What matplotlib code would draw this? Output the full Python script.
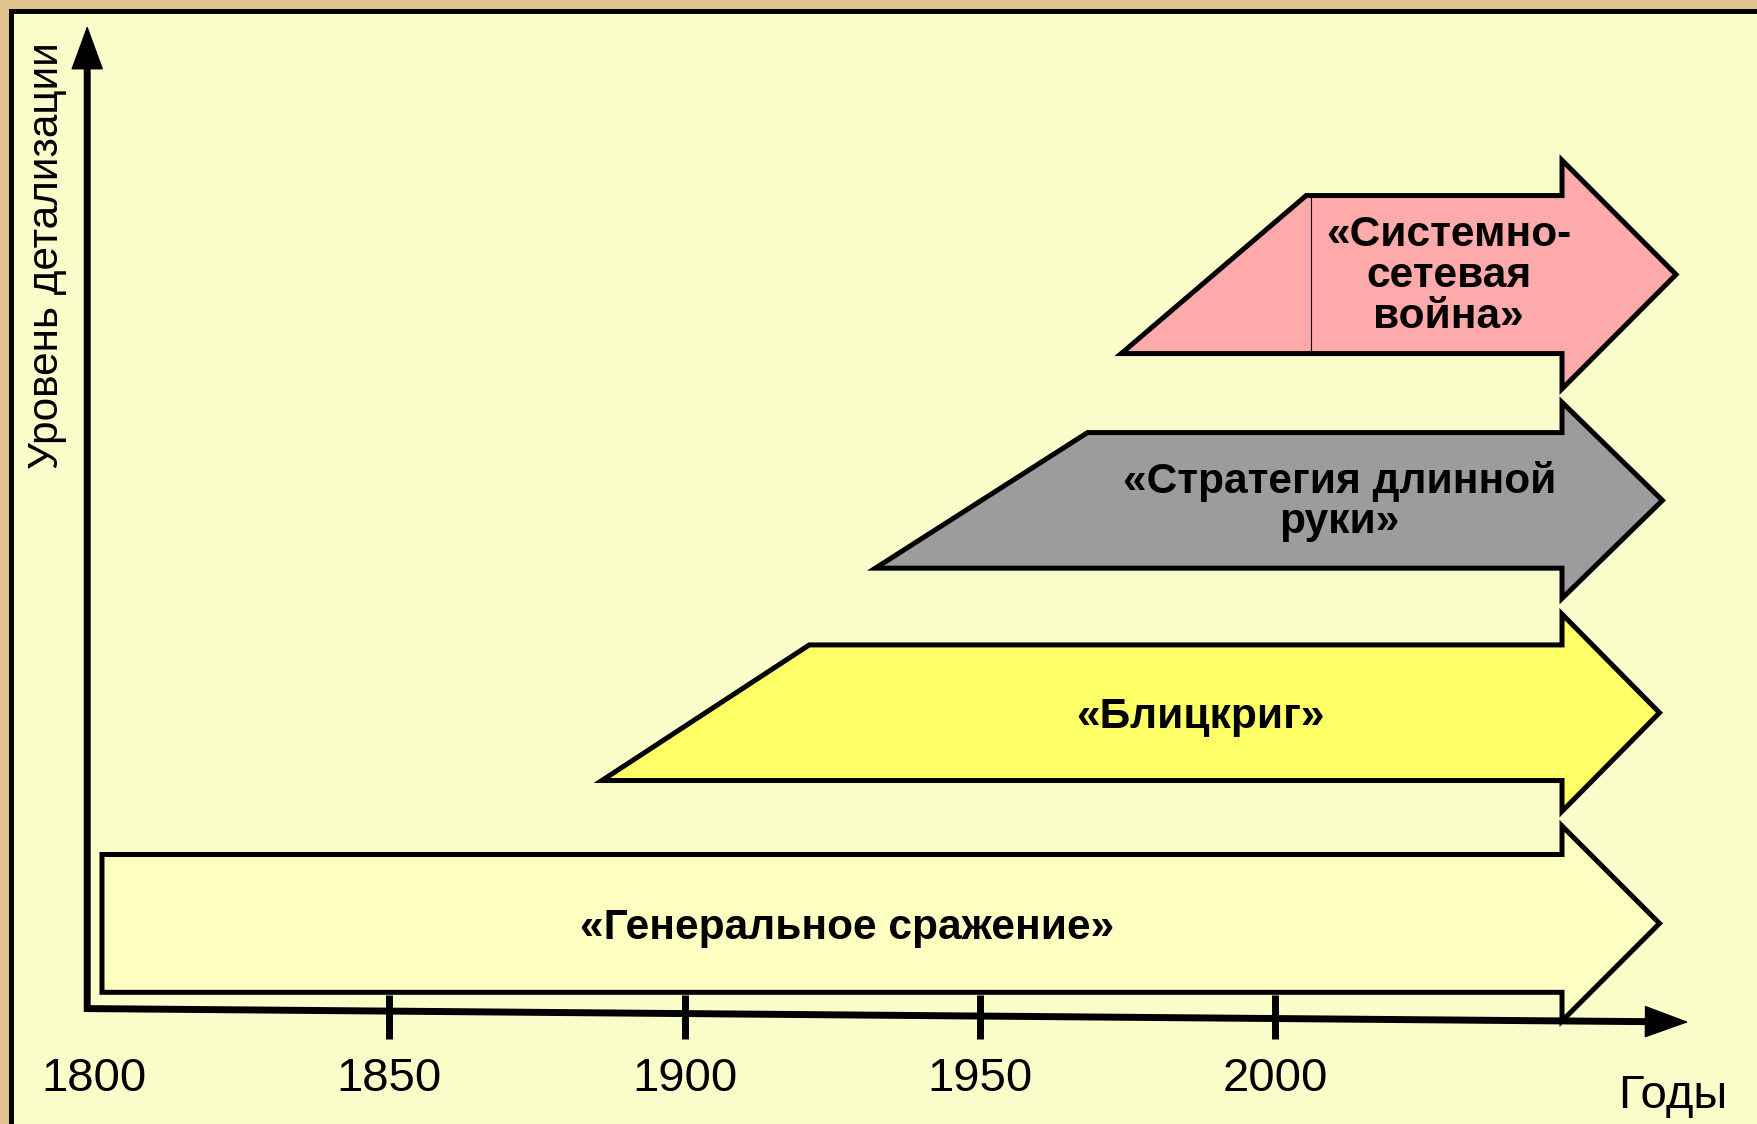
import matplotlib
matplotlib.use("Agg")
import matplotlib.pyplot as plt
from matplotlib.patches import Polygon, Rectangle

plt.rcParams['font.family'] = ['Liberation Sans', 'DejaVu Sans']

# strategies, from the bottom arrow to the top one
names = [["«Генеральное сражение»"],
         ["«Блицкриг»"],
         ["«Стратегия длинной", "руки»"],
         ["«Системно-", "сетевая", "война»"]]
start_year = [1801.4, 1886.0, 1932.3, 1973.9]   # thin end of the arrow
full_year = [1801.4, 1921.1, 1968.2, 2005.2]    # arrow reaches full width
head_year = [2048.5, 2048.5, 2048.5, 2048.5]
tip_year = [2065.0, 2065.0, 2065.5, 2067.8]
level = [0.76, 2.64, 4.535, 6.55]               # level of detail (centre)
body_half = [0.615, 0.605, 0.605, 0.705]
head_half = [0.87, 0.88, 0.875, 1.02]
fills = ["#FFFFC2", "#FFFF66", "#9C9C9C", "#FFAAAA"]

year_labels = [1800, 1850, 1900, 1950, 2000]
tick_years = [1850, 1900, 1950, 2000]

# axes geometry (years / levels)
axis_year = 1798.9
axis_end_year = 2069.9
axis_end_level = -0.12   # the x axis is drawn slightly tilted
axis_top = 8.77

fig = plt.figure(figsize=(17.58, 11.24), dpi=100, facecolor="#E2C28C")

# pale yellow slide panel with black frame on the left and top
fig.patches.append(Rectangle((11.5 / 1758, -0.05), 1.1, 1 - 10.5 / 1124 + 0.05,
                             transform=fig.transFigure, facecolor="#FAFDC9",
                             edgecolor="black", lw=3.6, zorder=-5))

ax = fig.add_axes([0, 0, 1, 1])
ax.set_facecolor("none")
ax.set_xlim(1784.14, 2081.67)
ax.set_ylim(-1.03, 9.0)
ax.axis("off")

# arrows
for i in range(len(names)):
    c, b, hh = level[i], body_half[i], head_half[i]
    pts = [(start_year[i], c - b), (full_year[i], c + b), (head_year[i], c + b),
           (head_year[i], c + hh), (tip_year[i], c), (head_year[i], c - hh),
           (head_year[i], c - b)]
    ax.add_patch(Polygon(pts, closed=True, facecolor=fills[i], edgecolor="black",
                         lw=3.6, joinstyle="miter", zorder=2))
    tx = (full_year[i] + head_year[i]) / 2 + 2.5
    n = len(names[i])
    for j, line in enumerate(names[i]):
        dy = ((n - 1) / 2 - j) * 29.2 + (2.2 if n > 1 else 0)
        ax.annotate(line, (tx, c), xytext=(0, dy), textcoords="offset points",
                    ha="center", va="center_baseline", fontsize=30.6,
                    fontweight="bold", zorder=4)

# seam between tail and body of the top arrow
ax.plot([full_year[3] + 0.9] * 2, [level[3] - body_half[3], level[3] + body_half[3]],
        color="black", lw=0.8, zorder=3)

# axes lines
ax.plot([axis_year, axis_year, axis_end_year - 4],
        [axis_top - 0.3, 0, axis_end_level + 0.002],
        color="black", lw=5, solid_joinstyle="miter", solid_capstyle="butt", zorder=5)
head = dict(arrowstyle="-|>,head_length=2.95,head_width=1.08", mutation_scale=10,
            color="black", lw=1, shrinkA=0, shrinkB=0)
ax.annotate("", xy=(axis_year, axis_top), xytext=(axis_year, axis_top - 0.6),
            arrowprops=head, zorder=5)
ax.annotate("", xy=(axis_end_year, axis_end_level),
            xytext=(axis_end_year - 10, axis_end_level + 0.0045), arrowprops=head, zorder=5)

ax.vlines(tick_years, -0.27, 0.12, color="black", lw=5, zorder=5)

for yr in year_labels:
    ax.text(yr, -0.737, str(yr), ha="center", va="baseline", fontsize=34)

ax.text(2067.3, -0.885, "Годы", ha="center", va="baseline", fontsize=34)
ax.text(1792.1, 8.62, "Уровень детализации", rotation=90, ha="center", va="top",
        fontsize=30.5)

fig.savefig("out.png", dpi=100, facecolor=fig.get_facecolor())
